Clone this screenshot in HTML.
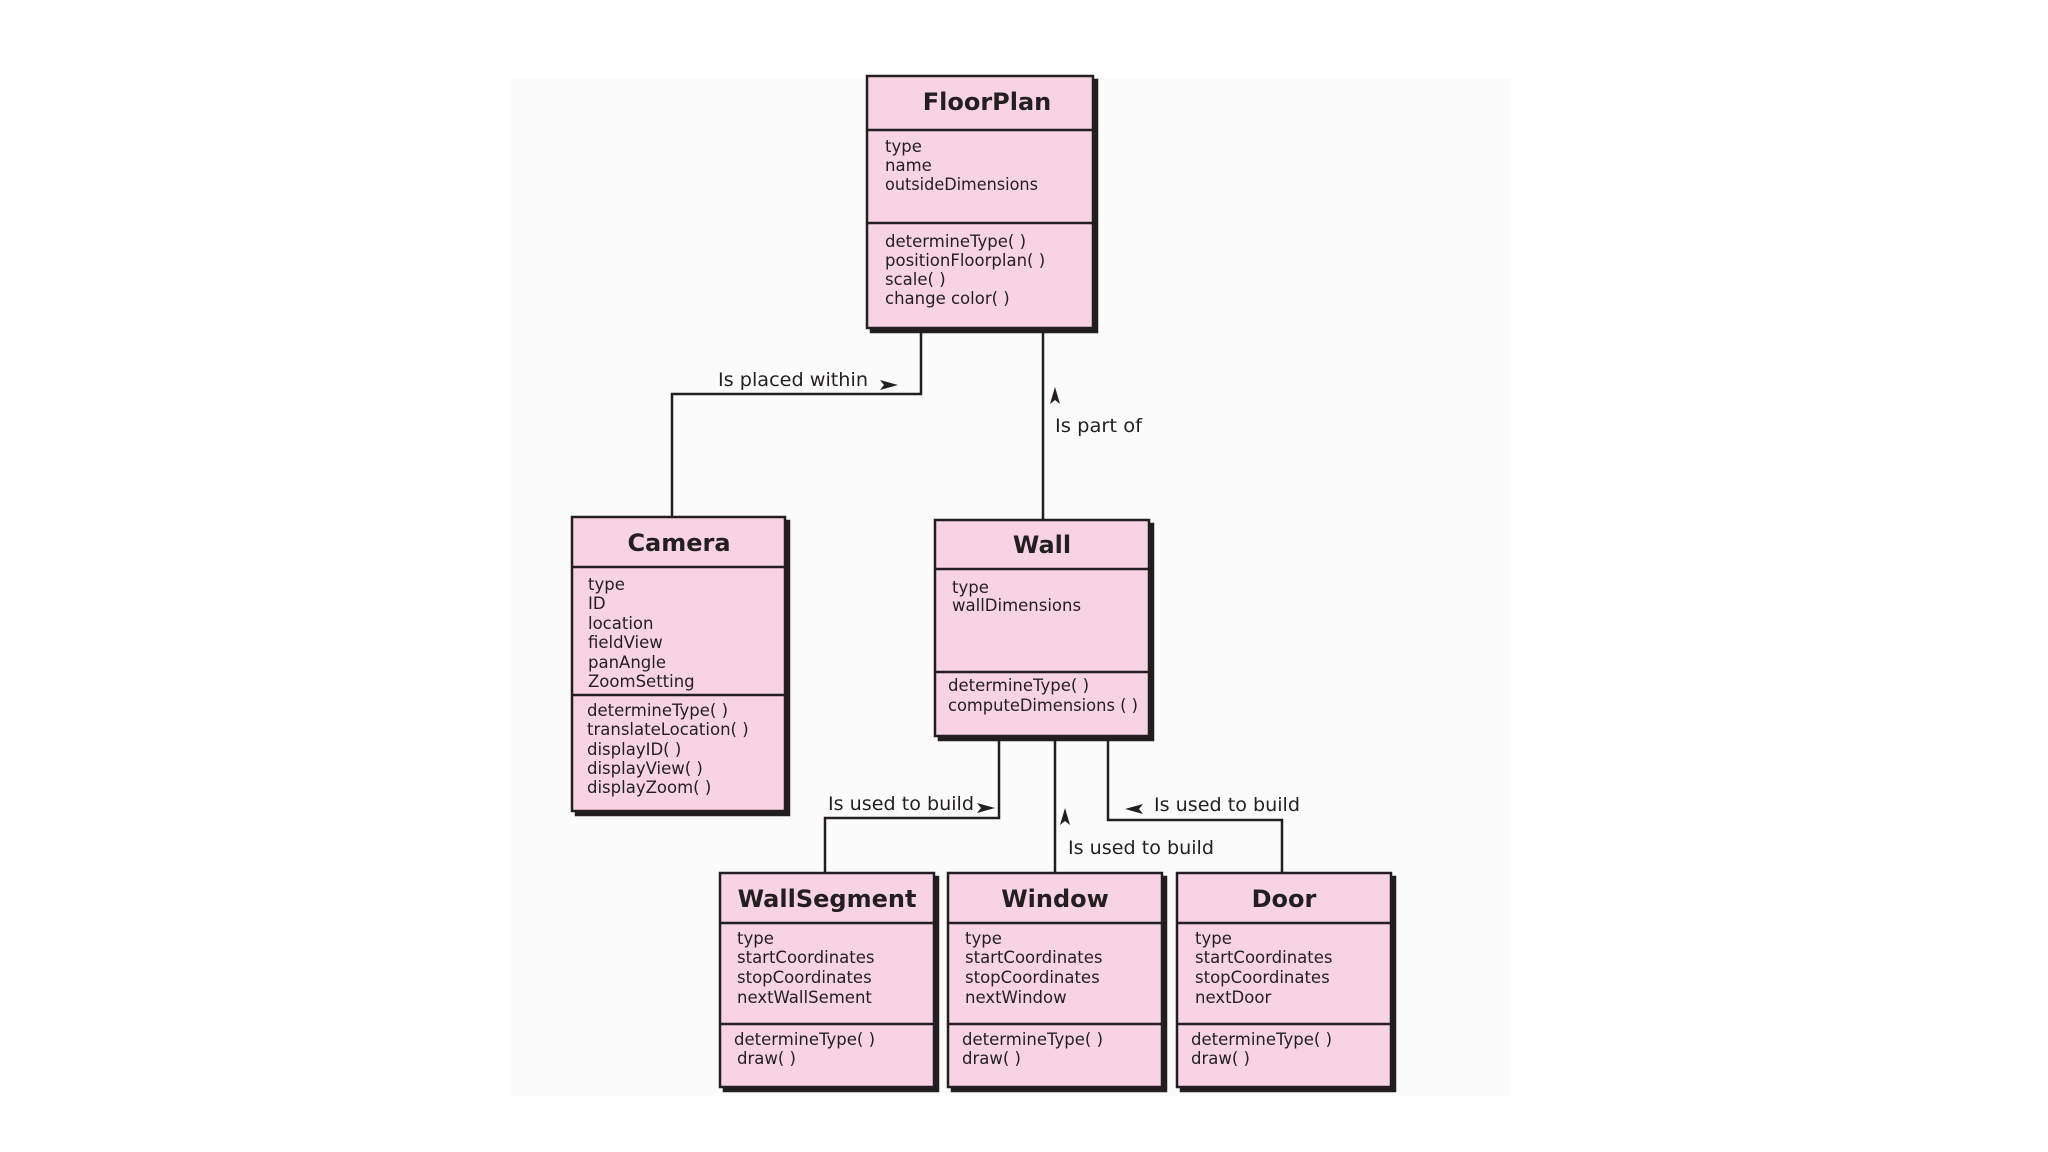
<!DOCTYPE html>
<html><head><meta charset="utf-8"><style>
html,body{margin:0;padding:0;background:#fff;}
svg{display:block;}
text{font-family:"DejaVu Sans","Liberation Sans",sans-serif;fill:#231f20;}
.t{font-size:24px;font-weight:bold;text-anchor:middle;}
.a{font-size:16.5px;}
.l{font-size:19px;}
</style></head><body>
<svg width="2048" height="1152" viewBox="0 0 2048 1152" xmlns="http://www.w3.org/2000/svg">
<rect x="510" y="78" width="1000" height="1018" fill="#fbfbfb"/>
<g stroke="#231f20" stroke-width="2.5" fill="none">
<polyline points="921,330 921,394 672,394 672,517"/>
<line x1="1043" y1="330" x2="1043" y2="520"/>
<polyline points="999,738 999,818 825,818 825,873"/>
<line x1="1055" y1="738" x2="1055" y2="873"/>
<polyline points="1108,738 1108,820 1282,820 1282,873"/>
</g>
<g fill="#231f20">
<polygon points="880,380 898,385 880,390 884,385"/>
<polygon points="1055,387 1060,404 1055,400 1050,404"/>
<polygon points="977,803 995,808 977,813 981,808"/>
<polygon points="1065,808 1070,825 1065,821 1060,825"/>
<polygon points="1143,804 1125,809 1143,814 1139,809"/>
</g>
<text class="l" x="718" y="386" textLength="150" lengthAdjust="spacingAndGlyphs">Is placed within</text>
<text class="l" x="1055" y="432" textLength="87" lengthAdjust="spacingAndGlyphs">Is part of</text>
<text class="l" x="828" y="810" textLength="146" lengthAdjust="spacingAndGlyphs">Is used to build</text>
<text class="l" x="1154" y="811" textLength="146" lengthAdjust="spacingAndGlyphs">Is used to build</text>
<text class="l" x="1068" y="854" textLength="146" lengthAdjust="spacingAndGlyphs">Is used to build</text>

<g stroke="#231f20" stroke-width="2.5">
<rect x="871" y="80" width="226" height="252" fill="#231f20"/>
<rect x="867" y="76" width="226" height="252" fill="#f7d3e3"/>
<line x1="867" y1="130" x2="1093" y2="130"/><line x1="867" y1="223" x2="1093" y2="223"/>

<rect x="576" y="521" width="213" height="294" fill="#231f20"/>
<rect x="572" y="517" width="213" height="294" fill="#f7d3e3"/>
<line x1="572" y1="567" x2="785" y2="567"/><line x1="572" y1="695" x2="785" y2="695"/>

<rect x="939" y="524" width="214" height="216" fill="#231f20"/>
<rect x="935" y="520" width="214" height="216" fill="#f7d3e3"/>
<line x1="935" y1="569" x2="1149" y2="569"/><line x1="935" y1="672" x2="1149" y2="672"/>

<rect x="724" y="877" width="214" height="214" fill="#231f20"/>
<rect x="720" y="873" width="214" height="214" fill="#f7d3e3"/>
<line x1="720" y1="923" x2="934" y2="923"/><line x1="720" y1="1024" x2="934" y2="1024"/>

<rect x="952" y="877" width="214" height="214" fill="#231f20"/>
<rect x="948" y="873" width="214" height="214" fill="#f7d3e3"/>
<line x1="948" y1="923" x2="1162" y2="923"/><line x1="948" y1="1024" x2="1162" y2="1024"/>

<rect x="1181" y="877" width="214" height="214" fill="#231f20"/>
<rect x="1177" y="873" width="214" height="214" fill="#f7d3e3"/>
<line x1="1177" y1="923" x2="1391" y2="923"/><line x1="1177" y1="1024" x2="1391" y2="1024"/>
</g>

<text class="t" x="987" y="110">FloorPlan</text>
<text class="a" x="885" y="152">type</text>
<text class="a" x="885" y="171">name</text>
<text class="a" x="885" y="190" textLength="153" lengthAdjust="spacingAndGlyphs">outsideDimensions</text>
<text class="a" x="885" y="247">determineType( )</text>
<text class="a" x="885" y="266">positionFloorplan( )</text>
<text class="a" x="885" y="285">scale( )</text>
<text class="a" x="885" y="304">change color( )</text>

<text class="t" x="679" y="551">Camera</text>
<text class="a" x="588" y="590">type</text>
<text class="a" x="588" y="609">ID</text>
<text class="a" x="588" y="629">location</text>
<text class="a" x="588" y="648">fieldView</text>
<text class="a" x="588" y="668">panAngle</text>
<text class="a" x="588" y="687">ZoomSetting</text>
<text class="a" x="587" y="716">determineType( )</text>
<text class="a" x="587" y="735">translateLocation( )</text>
<text class="a" x="587" y="755">displayID( )</text>
<text class="a" x="587" y="774">displayView( )</text>
<text class="a" x="587" y="793">displayZoom( )</text>

<text class="t" x="1042" y="553">Wall</text>
<text class="a" x="952" y="593">type</text>
<text class="a" x="952" y="611">wallDimensions</text>
<text class="a" x="948" y="691">determineType( )</text>
<text class="a" x="948" y="711" textLength="190" lengthAdjust="spacingAndGlyphs">computeDimensions ( )</text>

<text class="t" x="827" y="907">WallSegment</text>
<text class="a" x="737" y="944">type</text>
<text class="a" x="737" y="963">startCoordinates</text>
<text class="a" x="737" y="983">stopCoordinates</text>
<text class="a" x="737" y="1003">nextWallSement</text>
<text class="a" x="734" y="1045">determineType( )</text>
<text class="a" x="737" y="1064">draw( )</text>

<text class="t" x="1055" y="907">Window</text>
<text class="a" x="965" y="944">type</text>
<text class="a" x="965" y="963">startCoordinates</text>
<text class="a" x="965" y="983">stopCoordinates</text>
<text class="a" x="965" y="1003">nextWindow</text>
<text class="a" x="962" y="1045">determineType( )</text>
<text class="a" x="962" y="1064">draw( )</text>

<text class="t" x="1284" y="907">Door</text>
<text class="a" x="1195" y="944">type</text>
<text class="a" x="1195" y="963">startCoordinates</text>
<text class="a" x="1195" y="983">stopCoordinates</text>
<text class="a" x="1195" y="1003">nextDoor</text>
<text class="a" x="1191" y="1045">determineType( )</text>
<text class="a" x="1191" y="1064">draw( )</text>
</svg>
</body></html>
